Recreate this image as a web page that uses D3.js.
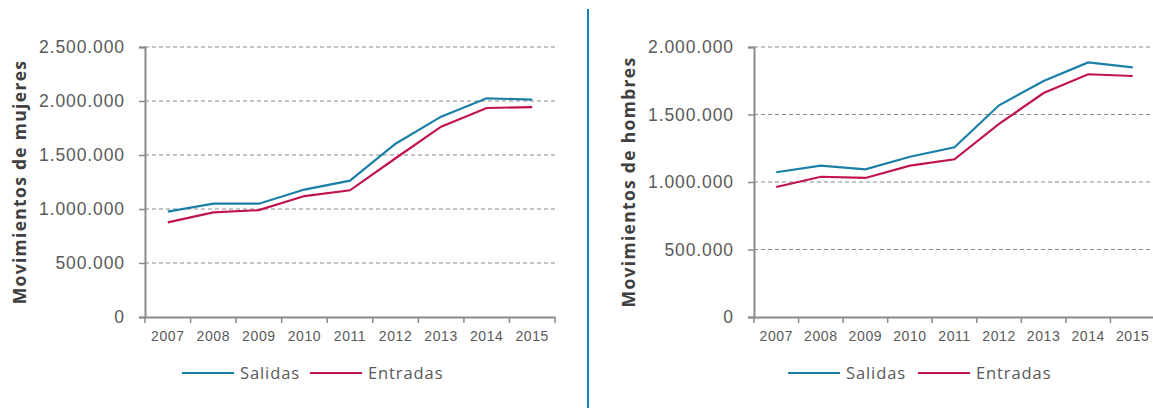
<!DOCTYPE html>
<html>
<head>
<meta charset="utf-8">
<script src="https://cdnjs.cloudflare.com/ajax/libs/d3/7.8.5/d3.min.js"></script>
<style>
  body { margin: 0; background: #fff; }
  svg { display: block; font-family: "Open Sans", sans-serif; }
</style>
</head>
<body>
<script>
// data
var years = ["2007", "2008", "2009", "2010", "2011", "2012", "2013", "2014", "2015"];
var mujeresSalidas  = [975000, 1049000, 1049000, 1180000, 1262000, 1604000, 1855000, 2025000, 2012000];
var mujeresEntradas = [876000, 968000, 990000, 1120000, 1173000, 1470000, 1762000, 1935000, 1944000];
var hombresSalidas  = [1072000, 1121000, 1094000, 1187000, 1257000, 1568000, 1748000, 1886000, 1849000];
var hombresEntradas = [963000, 1039000, 1030000, 1121000, 1168000, 1430000, 1659000, 1798000, 1785000];
var mujeresTicks = [0, 500000, 1000000, 1500000, 2000000, 2500000];
var hombresTicks = [0, 500000, 1000000, 1500000, 2000000];
var seriesNames = ["Salidas", "Entradas"];
var colors = ["#1a7fa6", "#c0134f"];

var svg = d3.select("body").append("svg")
    .attr("width", 1153)
    .attr("height", 408);

var fmt = function(d) {
    return d3.format(",")(d).replace(/,/g, ".");
};

function drawChart(opt) {
    var g = svg.append("g");

    var x = d3.scaleBand()
        .domain(years)
        .range([opt.left, opt.right]);

    var y = d3.scaleLinear()
        .domain([0, opt.max])
        .range([opt.bottom, opt.top]);

    // dashed gridlines
    g.selectAll(".grid")
        .data(opt.ticks.filter(function(d) { return d > 0; }))
        .enter().append("line")
        .attr("x1", opt.left).attr("x2", opt.right)
        .attr("y1", function(d) { return y(d); })
        .attr("y2", function(d) { return y(d); })
        .attr("stroke", "#8a8a8a")
        .attr("stroke-width", 1.2)
        .attr("stroke-dasharray", "4,3");

    // y axis
    var ya = g.append("g")
        .attr("transform", "translate(" + opt.left + ",0)")
        .call(d3.axisLeft(y).tickValues(opt.ticks).tickFormat(fmt).tickSize(6).tickPadding(14));
    ya.select(".domain").attr("stroke", "#8a8a8a").attr("stroke-width", 2);
    ya.selectAll(".tick line").attr("stroke", "#8a8a8a").attr("stroke-width", 1.5);
    ya.selectAll("text")
        .attr("font-size", "17.5px")
        .attr("letter-spacing", "0.9px")
        .attr("fill", "#595959");

    // x axis
    var xa = g.append("g")
        .attr("transform", "translate(0," + opt.bottom + ")")
        .call(d3.axisBottom(x).tickSize(0).tickPadding(14));
    xa.select(".domain").attr("stroke", "#8a8a8a").attr("stroke-width", 2);
    xa.selectAll("text")
        .attr("font-size", "14px")
        .attr("letter-spacing", "0.6px")
        .attr("fill", "#595959");
    // ticks between bands
    g.selectAll(".xt")
        .data(years.concat(["end"]))
        .enter().append("line")
        .attr("x1", function(d, i) { return opt.left + i * x.bandwidth(); })
        .attr("x2", function(d, i) { return opt.left + i * x.bandwidth(); })
        .attr("y1", opt.bottom)
        .attr("y2", opt.bottom + 6)
        .attr("stroke", "#8a8a8a")
        .attr("stroke-width", 1.5);

    // y title
    g.append("text")
        .attr("transform", "translate(" + opt.titleX + "," + ((opt.top + opt.bottom) / 2) + ") rotate(-90)")
        .attr("text-anchor", "middle")
        .attr("font-size", "17.5px")
        .attr("letter-spacing", "1.3px")
        .attr("font-weight", "bold")
        .attr("fill", "#404040")
        .text(opt.title);

    // lines
    var line = d3.line()
        .x(function(d, i) { return x(years[i]) + x.bandwidth() / 2; })
        .y(function(d) { return y(d); });

    opt.series.forEach(function(s, i) {
        g.append("path")
            .datum(s)
            .attr("fill", "none")
            .attr("stroke", colors[i])
            .attr("stroke-width", 2.2)
            .attr("d", line);
    });

    // legend
    var lg = g.append("g").attr("transform", "translate(" + opt.legendX + ",373)");
    var offsets = [0, opt.legendGap];
    seriesNames.forEach(function(name, i) {
        lg.append("line")
            .attr("x1", offsets[i]).attr("x2", offsets[i] + 52)
            .attr("y1", 0).attr("y2", 0)
            .attr("stroke", colors[i])
            .attr("stroke-width", 2.2);
        lg.append("text")
            .attr("x", offsets[i] + 58)
            .attr("y", 0)
            .attr("dy", "0.35em")
            .attr("font-size", "16.5px")
            .attr("letter-spacing", "0.9px")
            .attr("fill", "#595959")
            .text(name);
    });
}

drawChart({
    left: 145, right: 555, top: 47, bottom: 317,
    max: 2500000, ticks: mujeresTicks,
    series: [mujeresSalidas, mujeresEntradas],
    title: "Movimientos de mujeres", titleX: 26,
    legendX: 182, legendGap: 128
});

drawChart({
    left: 754, right: 1155, top: 47, bottom: 317,
    max: 2000000, ticks: hombresTicks,
    series: [hombresSalidas, hombresEntradas],
    title: "Movimientos de hombres", titleX: 635,
    legendX: 788, legendGap: 130
});

// divider
svg.append("line")
    .attr("x1", 588).attr("x2", 588)
    .attr("y1", 9).attr("y2", 408)
    .attr("stroke", "#0a87bd")
    .attr("stroke-width", 2);
</script>
</body>
</html>
